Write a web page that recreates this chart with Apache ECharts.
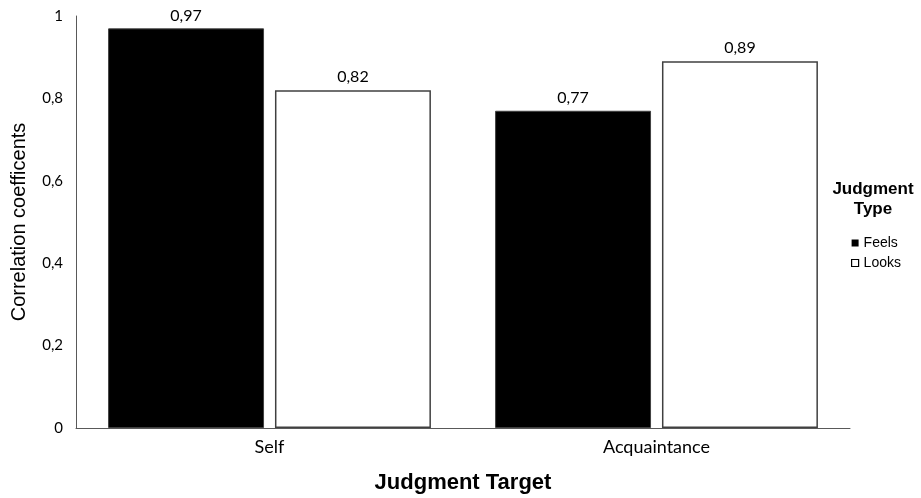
<!DOCTYPE html>
<html>
<head>
<meta charset="utf-8">
<script src="https://cdn.jsdelivr.net/npm/echarts@6/dist/echarts.min.js"></script>
<style>
  html, body { margin: 0; padding: 0; background: #fff; }
  #chart { width: 921px; height: 498px; }
</style>
</head>
<body>
<div id="chart"></div>
<script>
// Judgment targets on the x axis
const categories = ['Self', 'Acquaintance'];
// Correlation coefficients by judgment type
const feels = [0.97, 0.77];
const looks = [0.82, 0.89];
const seriesNames = ['Feels', 'Looks'];

const fmt = v => String(v).replace('.', ',');

const chart = echarts.init(document.getElementById('chart'));
chart.setOption({
  backgroundColor: '#fff',
  animation: false,
  grid: { left: 76, right: 71, top: 16, bottom: 70, outerBoundsMode: 'none', containLabel: false },
  title: {
    text: 'Judgment\nType',
    left: 868, top: 174,
    textAlign: 'center',
    textStyle: { fontFamily: 'Liberation Sans', fontSize: 17, fontWeight: 'bold', color: '#000', lineHeight: 20 }
  },
  legend: {
    orient: 'vertical',
    left: 846, top: 231,
    itemWidth: 7, itemHeight: 7, itemGap: 6,
    textStyle: { fontFamily: 'Liberation Sans', fontSize: 14, color: '#000' },
    data: [
      { name: 'Feels', icon: 'rect', itemStyle: { color: '#000', borderColor: '#000', borderWidth: 0 } },
      { name: 'Looks', icon: 'rect', itemStyle: { color: '#fff', borderColor: '#000', borderWidth: 1.2 } }
    ]
  },
  xAxis: {
    type: 'category',
    data: categories,
    name: 'Judgment Target',
    nameLocation: 'middle',
    nameGap: 44,
    nameTextStyle: { fontFamily: 'Liberation Sans', fontSize: 22, fontWeight: 'bold', color: '#000' },
    axisLine: { lineStyle: { color: '#595959', width: 1 } },
    axisTick: { show: false },
    axisLabel: { fontFamily: 'Lato', fontSize: 18, color: '#000', margin: 10 }
  },
  yAxis: {
    type: 'value',
    min: 0, max: 1, interval: 0.2,
    name: 'Correlation coefficents',
    nameLocation: 'middle',
    nameGap: 47,
    nameTextStyle: { fontFamily: 'Liberation Sans', fontSize: 20, color: '#000' },
    axisLine: { show: true, lineStyle: { color: '#595959', width: 1 } },
    axisTick: { show: false },
    splitLine: { show: false },
    axisLabel: { fontFamily: 'Lato', fontSize: 15, color: '#000', margin: 13, formatter: v => fmt(+v.toFixed(1)) }
  },
  series: [
    {
      name: seriesNames[0], type: 'bar', data: feels,
      barWidth: '40.3%', barGap: '7%',
      itemStyle: { color: '#000', borderColor: '#404040', borderWidth: 1 },
      label: { show: true, position: 'top', distance: 5, fontFamily: 'Lato', fontSize: 16, color: '#000', formatter: p => fmt(p.value) }
    },
    {
      name: seriesNames[1], type: 'bar', data: looks,
      barWidth: '40.3%', barGap: '7%',
      itemStyle: { color: '#fff', borderColor: '#404040', borderWidth: 1.5 },
      label: { show: true, position: 'top', distance: 5, fontFamily: 'Lato', fontSize: 16, color: '#000', formatter: p => fmt(p.value) }
    }
  ]
});
</script>
</body>
</html>
